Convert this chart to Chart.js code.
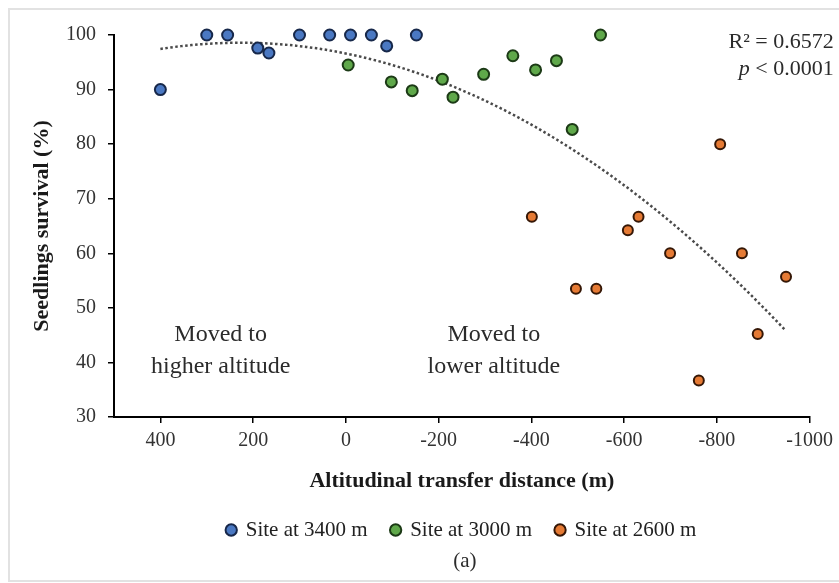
<!DOCTYPE html>
<html lang="en">
<head>
<meta charset="UTF-8">
<title>Seedlings survival vs transfer distance</title>
<script src="https://cdn.jsdelivr.net/npm/chart.js"></script>
<style>
  html, body { margin: 0; padding: 0; background: #fff; }
</style>
</head>
<body>
<canvas id="chart" width="839" height="583"></canvas>
<script>
// values
const site3400X = [400, 300, 255, 190, 166, 100, 35, -10, -55, -88, -152];
const site3400Y = [90, 100, 100, 97.6, 96.7, 100, 100, 100, 100, 98, 100];
const site3000X = [-5, -98, -143, -208, -231, -297, -360, -409, -454, -488, -549];
const site3000Y = [94.5, 91.4, 89.8, 91.9, 88.6, 92.8, 96.2, 93.6, 95.3, 82.7, 100];
const site2600X = [-401, -496, -540, -608, -631, -699, -761, -807, -854, -888, -949];
const site2600Y = [66.7, 53.5, 53.5, 64.2, 66.7, 60, 36.7, 80, 60, 45.2, 55.7];
const seriesLabels = ['Site at 3400 m', 'Site at 3000 m', 'Site at 2600 m'];
const xTicks = [400, 200, 0, -200, -400, -600, -800, -1000];
const yTicks = [30, 40, 50, 60, 70, 80, 90, 100];

const SERIF = '"Liberation Serif", "DejaVu Serif", serif';

function pts(xs, ys) { return xs.map((x, i) => ({ x: x, y: ys[i] })); }

// 2nd order polynomial trend (least squares) over all points, like the Excel trendline
function polyFit2(xs, ys) {
  let s = [0, 0, 0, 0, 0], t = [0, 0, 0];
  xs.forEach((x, i) => {
    let p = 1;
    for (let k = 0; k < 5; k++) { s[k] += p; if (k < 3) t[k] += p * ys[i]; p *= x; }
  });
  const A = [[s[0], s[1], s[2], t[0]], [s[1], s[2], s[3], t[1]], [s[2], s[3], s[4], t[2]]];
  for (let c = 0; c < 3; c++) {
    for (let r = c + 1; r < 3; r++) {
      const f = A[r][c] / A[c][c];
      for (let k = c; k < 4; k++) A[r][k] -= f * A[c][k];
    }
  }
  const b = [0, 0, 0];
  for (let r = 2; r >= 0; r--) {
    let v = A[r][3];
    for (let k = r + 1; k < 3; k++) v -= A[r][k] * b[k];
    b[r] = v / A[r][r];
  }
  return b;
}

const allX = site3400X.concat(site3000X, site2600X);
const allY = site3400Y.concat(site3000Y, site2600Y);
const coef = polyFit2(allX, allY);
const xHi = Math.max(...allX), xLo = Math.min(...allX);
const trend = [];
for (let i = 0; i <= 60; i++) {
  const x = xHi + (xLo - xHi) * i / 60;
  trend.push({ x: x, y: coef[0] + coef[1] * x + coef[2] * x * x });
}

const notes = [
  { text: 'Moved to', x: 270, y: 45 },
  { text: 'higher altitude', x: 270, y: 39.2 },
  { text: 'Moved to', x: -319, y: 45 },
  { text: 'lower altitude', x: -319, y: 39.2 }
];

const frame = {
  id: 'frame',
  beforeDraw(chart) {
    const c = chart.ctx;
    c.save();
    c.fillStyle = '#fff';
    c.fillRect(0, 0, chart.width, chart.height);
    c.strokeStyle = '#e2e2e2';
    c.lineWidth = 2;
    c.strokeRect(9, 9, chart.width + 10, chart.height - 11);
    c.restore();
  },
  afterDraw(chart) {
    const c = chart.ctx, xs = chart.scales.x, ys = chart.scales.y, area = chart.chartArea;
    c.save();
    c.fillStyle = '#2b2b2b';
    c.textBaseline = 'middle';
    c.textAlign = 'center';
    c.font = '24px ' + SERIF;
    notes.forEach(n => c.fillText(n.text, xs.getPixelForValue(n.x), ys.getPixelForValue(n.y)));

    c.textAlign = 'right';
    c.font = '22px ' + SERIF;
    const rx = area.right + 24;
    c.fillText('R² = 0.6572', rx, area.top + 7);
    const rest = ' < 0.0001';
    c.fillText(rest, rx, area.top + 34);
    const w = c.measureText(rest).width;
    c.font = 'italic 22px ' + SERIF;
    c.fillText('p', rx - w, area.top + 34);

    c.textAlign = 'center';
    c.font = '21px ' + SERIF;
    c.fillText('(a)', (area.left + area.right) / 2 + 3, 561);
    c.restore();
  }
};

const ctx = document.getElementById('chart').getContext('2d');
new Chart(ctx, {
  type: 'scatter',
  data: {
    datasets: [
      { label: seriesLabels[0], data: pts(site3400X, site3400Y), backgroundColor: '#4a78c2', borderColor: '#17284a', borderWidth: 2, pointRadius: 5.5, pointHoverRadius: 5.5, clip: false },
      { label: seriesLabels[1], data: pts(site3000X, site3000Y), backgroundColor: '#5fa84a', borderColor: '#1c3a16', borderWidth: 2, pointRadius: 5.5, pointHoverRadius: 5.5, clip: false },
      { label: seriesLabels[2], data: pts(site2600X, site2600Y), backgroundColor: '#e57a34', borderColor: '#351706', borderWidth: 2, pointRadius: 5, pointHoverRadius: 5, clip: false },
      { label: 'trend', type: 'line', data: trend, borderColor: '#4a4a4a', borderWidth: 2.5, borderDash: [2.5, 2.5], pointRadius: 0, fill: false, tension: 0, clip: false }
    ]
  },
  options: {
    responsive: false,
    animation: false,
    layout: { padding: { left: 0, right: 29, top: 35, bottom: 32.5 } },
    plugins: {
      tooltip: { enabled: false },
      legend: {
        position: 'bottom',
        fullSize: false,
        labels: {
          usePointStyle: true,
          boxWidth: 8,
          boxHeight: 8,
          padding: 24,
          color: '#222',
          font: { family: SERIF, size: 21 },
          filter: item => item.datasetIndex < 3
        }
      }
    },
    scales: {
      x: {
        type: 'linear',
        reverse: true,
        min: -1000,
        max: 500,
        afterBuildTicks: s => { s.ticks = xTicks.map(v => ({ value: v })); },
        afterFit: s => { s.height = 78.5; },
        grid: { drawOnChartArea: false, drawTicks: true, tickLength: 6, color: '#000', lineWidth: 1.5 },
        border: { color: '#000', width: 2 },
        ticks: { color: '#333', padding: 6, maxRotation: 0, autoSkip: false, font: { family: SERIF, size: 20 }, callback: v => String(v) },
        title: { display: true, text: 'Altitudinal transfer distance (m)', color: '#1a1a1a', font: { family: SERIF, size: 22, weight: 'bold' }, padding: { top: 0, bottom: 1 } }
      },
      y: {
        min: 30,
        max: 100,
        afterBuildTicks: s => { s.ticks = yTicks.map(v => ({ value: v })); },
        afterFit: s => { s.width = 114; },
        grid: { drawOnChartArea: false, drawTicks: true, tickLength: 6, color: '#000', lineWidth: 1.5 },
        border: { color: '#000', width: 2 },
        ticks: { color: '#333', padding: 12, font: { family: SERIF, size: 20 }, callback: v => String(v) },
        title: { display: true, text: 'Seedlings survival (%)', color: '#1a1a1a', font: { family: SERIF, size: 22, weight: 'bold' }, padding: { top: 29, bottom: 0 } }
      }
    }
  },
  plugins: [frame]
});
</script>
</body>
</html>
